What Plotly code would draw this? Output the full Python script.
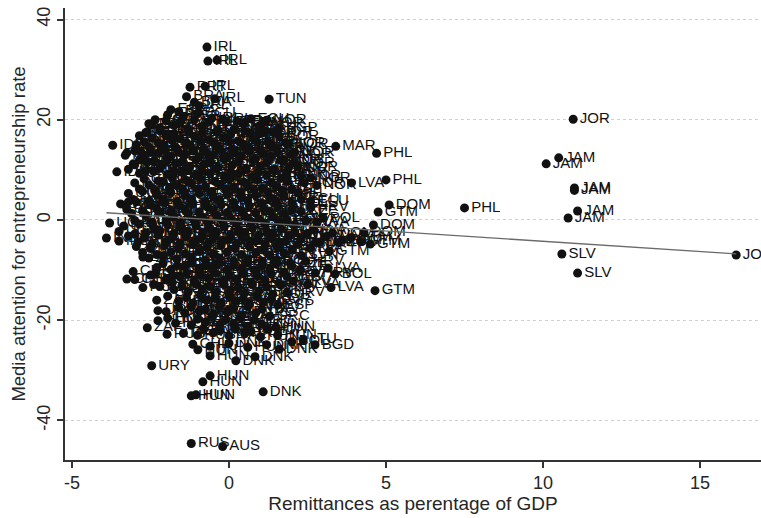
import plotly.graph_objects as go

# ---------------- data: (remittances % GDP, media attention, country) ----------------
far_points = [
    (10.96, 20.1, "JOR"), (16.15, -7.0, "JOR"),
    (10.5, 12.4, "JAM"), (10.1, 11.2, "JAM"), (11.0, 6.4, "JAM"), (11.0, 5.9, "JAM"),
    (11.1, 1.8, "JAM"), (10.8, 0.4, "JAM"),
    (10.6, -6.8, "SLV"), (11.1, -10.6, "SLV"),
    (4.7, 13.3, "PHL"), (5.0, 8.0, "PHL"), (7.5, 2.4, "PHL"),
    (3.4, 14.7, "MAR"), (3.9, 7.4, "LVA"),
    (5.1, 3.0, "DOM"), (4.6, -1.0, "DOM"), (4.3, -2.5, "DOM"),
    (4.75, 1.6, "GTM"), (4.5, -4.8, "GTM"), (4.65, -14.1, "GTM"), (4.2, -4.3, "GTM"), (3.9, -3.5, "GTM"),
    (3.16, -9.6, "LVA"), (3.25, -13.5, "LVA"), (3.38, -10.8, "BOL"), (3.5, -4.5, "BOL"),
    (1.28, 24.1, "TUN"), (1.2, 19.9, "NOR"),
]

top_points = [
    (-0.70, 34.5, "IRL"), (-0.67, 31.7, "IRL"), (-0.38, 31.9, "IRL"),
    (-0.76, 26.7, "IRL"), (-1.24, 26.5, "PRT"), (-0.45, 24.2, "IRL"), (-0.95, 22.8, "IRL"),
    (-1.35, 24.6, "BRA"), (-1.10, 23.5, "BRA"), (-1.6, 21.6, "BRA"), (-1.85, 22.0, "ESP"),
    (-2.35, 20.0, "ECU"), (-2.45, 18.9, "ECU"), (-2.6, 17.6, "PER"),
    (0.5, 19.5, "ECU"), (1.6, 16.8, "NOR"), (1.9, 15.1, "NOR"), (2.1, 13.5, "NOR"),
    (2.2, 10.6, "NOR"), (2.6, 8.4, "NOR"), (2.8, 6.9, "NOR"),
]

left_points = [
    (-3.7, 14.9, "IDN"), (-3.57, 9.6, "IDN"), (-3.3, 12.9, "IDN"), (-3.0, 11.0, "IDN"), (-2.8, 13.6, "IDN"),
    (-3.8, -0.6, "UGA"), (-3.3, 2.9, "UGA"), (-3.2, 3.6, "UGA"),
    (-3.9, -3.6, "IND"), (-3.5, -4.2, "IND"), (-3.0, -2.8, "IND"),
    (-2.74, -7.4, "ZAF"), (-2.6, -21.5, "ZAF"), (-2.3, -16.0, "ZAF"),
    (-3.05, -10.3, "CHL"), (-3.25, -11.8, "CHL"), (-3.0, -11.9, "CHL"), (-2.5, -11.0, "CHL"),
    (-2.74, -13.5, "ROU"), (-2.2, -13.3, "ROU"), (-1.8, -12.5, "ROU"),
    (-2.26, -18.1, "URY"), (-2.46, -29.1, "URY"), (-1.6, -17.5, "URY"),
]

core_top = [
    (-1.95, 21.0, "BRA"), (-1.45, 20.6, "ESP"), (-1.0, 21.2, "ECU"), (-0.55, 20.3, "IRL"), (-0.1, 19.6, "ITA"),
    (0.45, 19.2, "FRA"), (0.95, 18.7, "ECU"),
    (-2.55, 19.2, "GRC"), (-2.2, 18.4, "PER"), (-1.75, 18.9, "ARG"), (-1.3, 18.1, "COL"), (-0.85, 18.6, "MEX"),
    (-0.35, 17.9, "CHN"), (0.15, 18.0, "KOR"), (0.65, 17.4, "IRN"), (1.15, 17.6, "ISR"), (1.6, 18.4, "SGP"),
    (-2.85, 16.8, "IND"), (-2.45, 16.3, "ESP"), (-2.0, 16.9, "ITA"), (-1.55, 16.2, "TUR"), (-1.1, 16.7, "JPN"),
    (-0.65, 16.0, "USA"), (-0.2, 16.4, "GBR"), (0.3, 15.8, "DEU"), (0.8, 16.1, "NLD"), (1.25, 15.6, "BEL"),
    (-2.95, 15.0, "IDN"), (-2.55, 14.6, "PER"), (-2.1, 15.1, "SWE"), (-1.7, 14.4, "FIN"), (-1.25, 14.9, "CHE"),
    (-0.8, 14.2, "KOR"), (-0.35, 14.6, "CHN"), (0.1, 14.1, "ARG"), (0.55, 14.5, "MEX"), (1.0, 13.9, "POL"),
    (1.5, 14.4, "HRV"),
    (-3.25, 13.4, "IDN"), (-2.7, 12.9, "IND"), (-2.25, 13.3, "COL"), (-1.85, 12.7, "VEN"), (-1.4, 13.1, "SVN"),
    (-0.95, 12.6, "TUR"), (-0.5, 13.0, "ISR"), (-0.05, 12.4, "IRN"), (0.4, 12.8, "EGY"), (0.85, 12.2, "MYS"),
    (1.3, 12.6, "THA"), (1.75, 12.0, "NOR"),
    (-3.05, 11.2, "IDN"), (-2.6, 11.5, "ECU"), (-2.15, 10.9, "PRT"), (-1.7, 11.3, "CZE"), (-1.25, 10.7, "SVK"),
    (-0.8, 11.1, "ESP"), (-0.35, 10.5, "ITA"), (0.1, 10.9, "FRA"), (0.55, 10.3, "DEU"), (1.0, 10.7, "GBR"),
    (1.45, 10.1, "USA"), (1.9, 10.4, "NOR"),
    (-2.85, 9.3, "CHN"), (-2.4, 9.7, "GRC"), (-1.95, 9.1, "ARG"), (-1.5, 9.5, "BRA"), (-1.05, 8.9, "MEX"),
    (-0.6, 9.3, "PER"), (-0.15, 8.7, "COL"), (0.3, 9.1, "KOR"), (0.75, 8.5, "JPN"), (1.2, 8.9, "NLD"),
    (1.65, 8.3, "BEL"), (2.3, 8.8, "NOR"),
]

core_middle = [
    (-3.0, 7.4, "IND"), (-2.55, 7.0, "THA"), (-2.1, 7.6, "ESP"), (-1.65, 6.9, "ITA"), (-1.2, 7.3, "FRA"),
    (-0.75, 6.7, "SWE"), (-0.3, 7.1, "FIN"), (0.15, 6.5, "CHE"), (0.6, 6.9, "AUT"), (1.05, 6.3, "CAN"),
    (1.5, 6.7, "NZL"), (2.0, 6.1, "ISL"),
    (-3.2, 5.3, "UGA"), (-2.75, 5.7, "CHN"), (-2.3, 5.1, "GRC"), (-1.85, 5.5, "TUR"), (-1.4, 4.9, "ISR"),
    (-0.95, 5.3, "KOR"), (-0.5, 4.7, "ARG"), (-0.05, 5.1, "MEX"), (0.4, 4.5, "PER"), (0.85, 4.9, "COL"),
    (1.3, 4.3, "HRV"), (1.75, 4.7, "POL"), (2.3, 4.1, "ECU"),
    (-3.45, 3.2, "UGA"), (-2.95, 3.6, "IND"), (-2.5, 3.0, "EGY"), (-2.05, 3.4, "IRN"), (-1.6, 2.8, "MYS"),
    (-1.15, 3.2, "ESP"), (-0.7, 2.6, "ITA"), (-0.25, 3.0, "DEU"), (0.2, 2.4, "GBR"), (0.65, 2.8, "USA"),
    (1.1, 2.2, "JPN"), (1.55, 2.6, "SVN"), (2.0, 2.0, "CZE"), (2.6, 2.5, "HRV"),
    (-3.1, 1.3, "IND"), (-2.65, 0.9, "THA"), (-2.2, 1.5, "PRT"), (-1.75, 0.8, "SVK"), (-1.3, 1.2, "BRA"),
    (-0.85, 0.6, "ECU"), (-0.4, 1.0, "PER"), (0.05, 0.4, "COL"), (0.5, 0.8, "VEN"), (0.95, 0.2, "ARG"),
    (1.4, 0.6, "MEX"), (1.85, 0.0, "HRV"), (2.45, -0.2, "LVA"), (3.0, 0.4, "POL"),
    (-3.35, -1.2, "UGA"), (-2.85, -0.8, "CHN"), (-2.4, -1.4, "IND"), (-1.95, -1.0, "GRC"), (-1.5, -1.6, "TUR"),
    (-1.05, -1.2, "ESP"), (-0.6, -1.8, "ITA"), (-0.15, -1.4, "FRA"), (0.3, -2.0, "DEU"), (0.75, -1.6, "NLD"),
    (1.2, -2.2, "BEL"), (1.65, -1.8, "SWE"), (2.1, -2.4, "HRV"), (2.7, -2.0, "LVA"), (3.3, -2.6, "DOM"),
    (-3.2, -3.2, "IND"), (-2.7, -3.6, "THA"), (-2.25, -3.0, "MYS"), (-1.8, -3.5, "EGY"), (-1.35, -3.1, "IRN"),
    (-0.9, -3.7, "KOR"), (-0.45, -3.3, "CHN"), (0.0, -3.9, "ARG"), (0.45, -3.5, "MEX"), (0.9, -4.1, "PER"),
    (1.35, -3.7, "COL"), (1.8, -4.3, "ECU"), (2.3, -3.8, "HRV"), (2.9, -4.4, "LVA"), (3.6, -4.0, "GTM"),
    (-2.95, -5.3, "ZAF"), (-2.5, -5.7, "IND"), (-2.05, -5.1, "BRA"), (-1.6, -5.5, "PRT"), (-1.15, -4.9, "ESP"),
    (-0.7, -5.5, "ITA"), (-0.25, -5.1, "GBR"), (0.2, -5.7, "USA"), (0.65, -5.3, "JPN"), (1.1, -5.9, "CHE"),
    (1.55, -5.5, "FIN"), (2.0, -6.0, "SVN"), (2.6, -5.6, "LVA"), (3.2, -6.2, "GTM"),
    (-2.55, -7.6, "ZAF"), (-2.1, -7.2, "CHL"), (-1.65, -7.8, "ARG"), (-1.2, -7.4, "MEX"), (-0.75, -8.0, "CHN"),
    (-0.3, -7.6, "KOR"), (0.15, -8.2, "GRC"), (0.6, -7.8, "TUR"), (1.05, -8.4, "ISR"), (1.5, -8.0, "POL"),
    (1.95, -8.6, "CZE"), (2.45, -8.2, "HRV"),
]

core_bottom = [
    (-2.3, -9.5, "CHL"), (-1.85, -9.9, "ROU"), (-1.4, -9.3, "PER"), (-0.95, -9.8, "COL"), (-0.5, -9.4, "ECU"),
    (-0.05, -10.0, "VEN"), (0.4, -9.6, "ESP"), (0.85, -10.2, "ITA"), (1.3, -9.8, "FRA"), (1.75, -10.4, "HRV"),
    (2.25, -10.0, "LVA"), (2.75, -10.6, "HRV"),
    (-2.0, -11.8, "CHL"), (-1.55, -11.4, "ROU"), (-1.1, -12.0, "BRA"), (-0.65, -11.6, "ARG"), (-0.2, -12.2, "MEX"),
    (0.25, -11.8, "DEU"), (0.7, -12.4, "GBR"), (1.15, -12.0, "USA"), (1.6, -12.6, "SVK"), (2.05, -12.2, "HRV"),
    (2.5, -12.9, "LVA"),
    (-1.75, -13.9, "ROU"), (-1.3, -14.4, "ZAF"), (-0.85, -13.8, "TUR"), (-0.4, -14.4, "GRC"), (0.05, -14.0, "ESP"),
    (0.5, -14.6, "ITA"), (0.95, -14.2, "JPN"), (1.4, -14.8, "KOR"), (1.85, -14.4, "HRV"),
    (-1.6, -16.2, "URY"), (-1.15, -16.6, "ROU"), (-0.7, -16.0, "CHL"), (-0.25, -16.6, "ZAF"), (0.2, -16.2, "HUN"),
    (0.65, -16.8, "SVN"), (1.1, -16.4, "HRV"), (1.55, -17.0, "ESP"),
    (-2.0, -18.3, "ROU"), (-1.4, -18.6, "HUN"), (-0.95, -18.2, "ZAF"), (-0.5, -18.8, "RUS"), (-0.05, -18.4, "ZAF"),
    (0.4, -19.0, "ITA"), (0.85, -18.6, "GRC"), (1.3, -19.2, "GRC"),
    (-1.7, -20.6, "HUN"), (-1.2, -21.0, "ZAF"), (-0.75, -20.4, "RUS"), (-0.3, -21.0, "ITA"), (0.15, -20.6, "FRA"),
    (0.6, -21.2, "CHL"), (1.05, -20.8, "HUN"), (1.5, -21.4, "HUN"),
    (-1.45, -22.6, "ITA"), (-1.0, -23.0, "RUS"), (-0.5, -22.5, "ARG"), (0.0, -23.1, "ITA"), (0.5, -22.7, "HRV"),
    (1.0, -23.3, "HUN"), (1.55, -23.0, "HUN"), (2.0, -24.3, "BOL"),
    (-1.15, -24.8, "CHL"), (-0.6, -25.2, "HUN"), (0.0, -24.6, "DNK"), (0.6, -25.4, "HUN"), (1.2, -24.9, "DNK"),
    (1.6, -25.8, "DNK"),
]

# additional observations filling the dense centre of the cloud
core_fill_upper = [
    (-2.0, 19.8, "ESP"), (-1.55, 19.6, "ITA"), (-1.1, 20.0, "BRA"), (-0.65, 19.5, "ECU"), (-0.2, 20.1, "IRL"),
    (0.25, 19.7, "FRA"), (0.7, 20.2, "ECU"), (1.1, 19.4, "NOR"),
    (-2.65, 17.4, "PER"), (-2.2, 17.8, "COL"), (-1.75, 17.2, "ARG"), (-1.3, 17.7, "CHN"), (-0.85, 17.3, "KOR"),
    (-0.4, 17.6, "MEX"), (0.05, 17.1, "IRN"), (0.5, 17.7, "ISR"), (0.95, 17.2, "SGP"), (1.4, 17.5, "NOR"),
    (-2.7, 15.6, "IND"), (-2.25, 15.3, "ESP"), (-1.8, 15.8, "ITA"), (-1.35, 15.4, "TUR"), (-0.9, 15.7, "JPN"),
    (-0.45, 15.2, "USA"), (0.0, 15.6, "GBR"), (0.45, 15.1, "DEU"), (0.9, 15.5, "NLD"), (1.35, 15.0, "BEL"),
    (1.8, 15.4, "NOR"),
    (-3.0, 13.8, "IDN"), (-2.5, 13.5, "PER"), (-2.05, 14.0, "SWE"), (-1.6, 13.6, "FIN"), (-1.15, 13.9, "CHE"),
    (-0.7, 13.4, "KOR"), (-0.25, 13.8, "CHN"), (0.2, 13.3, "ARG"), (0.65, 13.7, "MEX"), (1.1, 13.2, "POL"),
    (1.55, 13.6, "HRV"), (2.0, 13.1, "NOR"),
    (-2.85, 12.0, "IND"), (-2.4, 11.7, "COL"), (-1.95, 12.1, "VEN"), (-1.5, 11.6, "SVN"), (-1.05, 12.0, "TUR"),
    (-0.6, 11.7, "ISR"), (-0.15, 12.2, "IRN"), (0.3, 11.6, "EGY"), (0.75, 12.0, "MYS"), (1.2, 11.5, "THA"),
    (1.65, 11.9, "NOR"), (2.1, 11.4, "NOR"),
    (-3.2, 10.1, "IDN"), (-2.65, 9.8, "ECU"), (-2.2, 10.3, "PRT"), (-1.75, 9.8, "CZE"), (-1.3, 10.2, "SVK"),
    (-0.85, 9.7, "ESP"), (-0.4, 10.1, "ITA"), (0.05, 9.6, "FRA"), (0.5, 10.0, "DEU"), (0.95, 9.5, "GBR"),
    (1.4, 9.9, "USA"), (1.85, 9.4, "NOR"),
    (-2.7, 8.2, "CHN"), (-2.25, 7.8, "GRC"), (-1.8, 8.3, "ARG"), (-1.35, 7.9, "BRA"), (-0.9, 8.2, "MEX"),
    (-0.45, 7.7, "PER"), (0.0, 8.1, "COL"), (0.45, 7.6, "KOR"), (0.9, 8.0, "JPN"), (1.35, 7.5, "NLD"),
    (1.85, 7.9, "BEL"), (2.4, 7.4, "NOR"),
]

core_fill_middle = [
    (-2.85, 6.2, "IND"), (-2.35, 5.9, "THA"), (-1.9, 6.3, "ESP"), (-1.45, 5.8, "ITA"), (-1.0, 6.2, "FRA"),
    (-0.55, 5.7, "SWE"), (-0.1, 6.1, "FIN"), (0.35, 5.6, "CHE"), (0.8, 6.0, "AUT"), (1.25, 5.5, "CAN"),
    (1.7, 5.9, "NZL"), (2.2, 5.4, "ISL"),
    (-3.05, 4.1, "UGA"), (-2.55, 3.8, "CHN"), (-2.1, 4.2, "GRC"), (-1.65, 3.7, "TUR"), (-1.2, 4.1, "ISR"),
    (-0.75, 3.6, "KOR"), (-0.3, 4.0, "ARG"), (0.15, 3.5, "MEX"), (0.6, 3.9, "PER"), (1.05, 3.4, "COL"),
    (1.5, 3.8, "HRV"), (2.0, 3.3, "POL"), (2.6, 3.7, "ECU"),
    (-3.25, 2.1, "UGA"), (-2.75, 1.8, "IND"), (-2.3, 2.2, "EGY"), (-1.85, 1.7, "IRN"), (-1.4, 2.1, "MYS"),
    (-0.95, 1.6, "ESP"), (-0.5, 2.0, "ITA"), (-0.05, 1.5, "DEU"), (0.4, 1.9, "GBR"), (0.85, 1.4, "USA"),
    (1.3, 1.8, "JPN"), (1.75, 1.3, "SVN"), (2.3, 1.7, "CZE"),
    (-3.0, -0.1, "IND"), (-2.45, -0.4, "THA"), (-2.0, 0.0, "PRT"), (-1.55, -0.5, "SVK"), (-1.1, -0.1, "BRA"),
    (-0.65, -0.6, "ECU"), (-0.2, -0.2, "PER"), (0.25, -0.7, "COL"), (0.7, -0.3, "VEN"), (1.15, -0.8, "ARG"),
    (1.6, -0.4, "MEX"), (2.1, -0.9, "HRV"), (2.8, -0.5, "LVA"),
    (-3.5, -2.3, "UGA"), (-2.65, -2.6, "CHN"), (-2.2, -2.2, "IND"), (-1.75, -2.7, "GRC"), (-1.3, -2.3, "TUR"),
    (-0.85, -2.8, "ESP"), (-0.4, -2.4, "ITA"), (0.05, -2.9, "FRA"), (0.5, -2.5, "DEU"), (0.95, -3.0, "NLD"),
    (1.4, -2.6, "BEL"), (1.9, -3.1, "SWE"), (2.5, -2.7, "HRV"), (3.1, -3.3, "LVA"),
    (-2.9, -4.4, "IND"), (-2.45, -4.8, "THA"), (-2.0, -4.3, "MYS"), (-1.55, -4.7, "EGY"), (-1.1, -4.2, "IRN"),
    (-0.65, -4.6, "KOR"), (-0.2, -4.1, "CHN"), (0.25, -4.7, "ARG"), (0.7, -4.3, "MEX"), (1.15, -4.8, "PER"),
    (1.6, -4.4, "COL"), (2.2, -4.9, "ECU"), (2.75, -4.5, "HRV"),
    (-2.75, -6.5, "ZAF"), (-2.3, -6.9, "IND"), (-1.85, -6.4, "BRA"), (-1.4, -6.8, "PRT"), (-0.95, -6.3, "ESP"),
    (-0.5, -6.8, "ITA"), (-0.05, -6.4, "GBR"), (0.4, -6.9, "USA"), (0.85, -6.5, "JPN"), (1.3, -7.0, "CHE"),
    (1.75, -6.6, "FIN"), (2.3, -7.1, "SVN"),
]

core_fill_lower = [
    (-2.1, -8.7, "CHL"), (-1.65, -9.1, "ARG"), (-1.2, -8.6, "MEX"), (-0.75, -9.0, "CHN"), (-0.3, -8.5, "KOR"),
    (0.15, -9.0, "GRC"), (0.6, -8.6, "TUR"), (1.05, -9.1, "ISR"), (1.5, -8.7, "POL"), (2.0, -9.2, "CZE"),
    (-2.35, -10.8, "CHL"), (-1.8, -11.1, "ROU"), (-1.35, -10.6, "PER"), (-0.9, -11.0, "COL"), (-0.45, -10.6, "ECU"),
    (0.0, -11.1, "VEN"), (0.45, -10.7, "ESP"), (0.9, -11.2, "ITA"), (1.35, -10.8, "FRA"), (1.85, -11.3, "HRV"),
    (-2.4, -12.9, "ROU"), (-1.5, -13.2, "BRA"), (-1.05, -12.8, "ARG"), (-0.6, -13.3, "MEX"), (-0.15, -12.9, "DEU"),
    (0.3, -13.4, "GBR"), (0.75, -12.9, "USA"), (1.2, -13.4, "SVK"), (1.65, -13.0, "HRV"),
    (-1.95, -15.2, "ROU"), (-1.35, -15.5, "ZAF"), (-0.9, -15.1, "TUR"), (-0.45, -15.6, "GRC"), (0.0, -15.2, "ESP"),
    (0.45, -15.7, "ITA"), (0.9, -15.3, "JPN"), (1.35, -15.8, "KOR"),
    (-1.2, -17.4, "ROU"), (-0.75, -17.8, "CHL"), (-0.3, -17.3, "ZAF"), (0.15, -17.7, "HUN"), (0.6, -17.3, "SVN"),
    (1.05, -17.8, "HRV"),
    (-1.95, -19.6, "HUN"), (-1.0, -19.8, "ZAF"), (-0.55, -19.4, "RUS"), (-0.1, -19.9, "ZAF"), (0.35, -19.5, "ITA"),
    (0.8, -20.0, "GRC"),
    (-0.8, -21.8, "RUS"), (-0.3, -22.1, "ITA"), (0.2, -21.7, "FRA"), (0.7, -22.2, "CHL"), (1.25, -21.8, "HUN"),
]

lower_points = [
    (-2.26, -20.1, "HUN"), (-1.97, -22.8, "RUS"),
    (-0.99, -25.9, "HUN"), (-0.6, -27.1, "HUN"), (0.22, -28.1, "DNK"), (0.83, -27.3, "DNK"),
    (2.36, -23.9, "LTU"), (2.74, -24.9, "BGD"),
    (-0.6, -31.1, "HUN"), (-0.83, -32.3, "HUN"), (-1.2, -35.1, "HUN"), (-1.05, -34.9, "HUN"),
    (1.09, -34.3, "DNK"),
    (-1.2, -44.6, "RUS"), (-0.2, -45.2, "AUS"),
]

# linear fit
fit_intercept = -0.16
fit_slope = -0.41

x_ticks = [-5, 0, 5, 10, 15]
x_tick_text = ["-5", "0", "5", "10", "15"]
y_ticks = [-40, -20, 0, 20, 40]
y_tick_text = ["-40", "-20", "0", "20", "40"]

x_title = "Remittances as perentage of GDP"
y_title = "Media attention for entrepreneurship rate"

# ---------------- figure ----------------
FONT = "Liberation Sans, Arial, sans-serif"
INK = "#111111"
AXIS_TXT = "#262626"

fig = go.Figure()

groups = [core_fill_upper, core_fill_middle, core_fill_lower, core_top, core_middle, core_bottom,
          left_points, top_points, lower_points, far_points]
for g in groups:
    fig.add_trace(go.Scatter(
        x=[p[0] for p in g], y=[p[1] for p in g], text=[p[2] for p in g],
        mode="markers+text", textposition="middle right",
        marker=dict(size=9, color=INK, line=dict(width=0)),
        textfont=dict(family=FONT, size=15, color=INK),
        hoverinfo="skip", showlegend=False,
    ))

all_x = [p[0] for g in groups for p in g]
x_lo, x_hi = min(all_x), max(all_x)
fig.add_trace(go.Scatter(
    x=[x_lo, x_hi], y=[fit_intercept + fit_slope * x_lo, fit_intercept + fit_slope * x_hi],
    mode="lines", line=dict(color="#6a6a6a", width=1.3), hoverinfo="skip", showlegend=False,
))

fig.update_layout(
    width=761, height=518,
    margin=dict(l=65, r=0, t=8, b=58),
    paper_bgcolor="white", plot_bgcolor="white",
    font=dict(family=FONT, size=17, color=AXIS_TXT),
    showlegend=False,
)
fig.update_xaxes(
    range=[-5.22, 16.94], tickvals=x_ticks, ticktext=x_tick_text,
    showline=True, linecolor="#333333", linewidth=1.5,
    ticks="outside", ticklen=6, tickcolor="#333333", tickwidth=1.5,
    showgrid=False, zeroline=False,
    tickfont=dict(size=18, family=FONT, color=AXIS_TXT),
    title=dict(text=x_title, font=dict(size=19, family=FONT, color=AXIS_TXT), standoff=2),
)
fig.update_yaxes(
    range=[-47.9, 42.3], tickvals=y_ticks, ticktext=y_tick_text, tickangle=-90,
    showline=True, linecolor="#333333", linewidth=1.5,
    ticks="outside", ticklen=6, tickcolor="#333333", tickwidth=1.5,
    showgrid=True, gridcolor="#cfcfcf", gridwidth=1, griddash="dot",
    zeroline=False,
    tickfont=dict(size=18, family=FONT, color=AXIS_TXT),
    title=dict(text=y_title, font=dict(size=18.5, family=FONT, color=AXIS_TXT), standoff=4),
)

fig.write_html("out.html")
